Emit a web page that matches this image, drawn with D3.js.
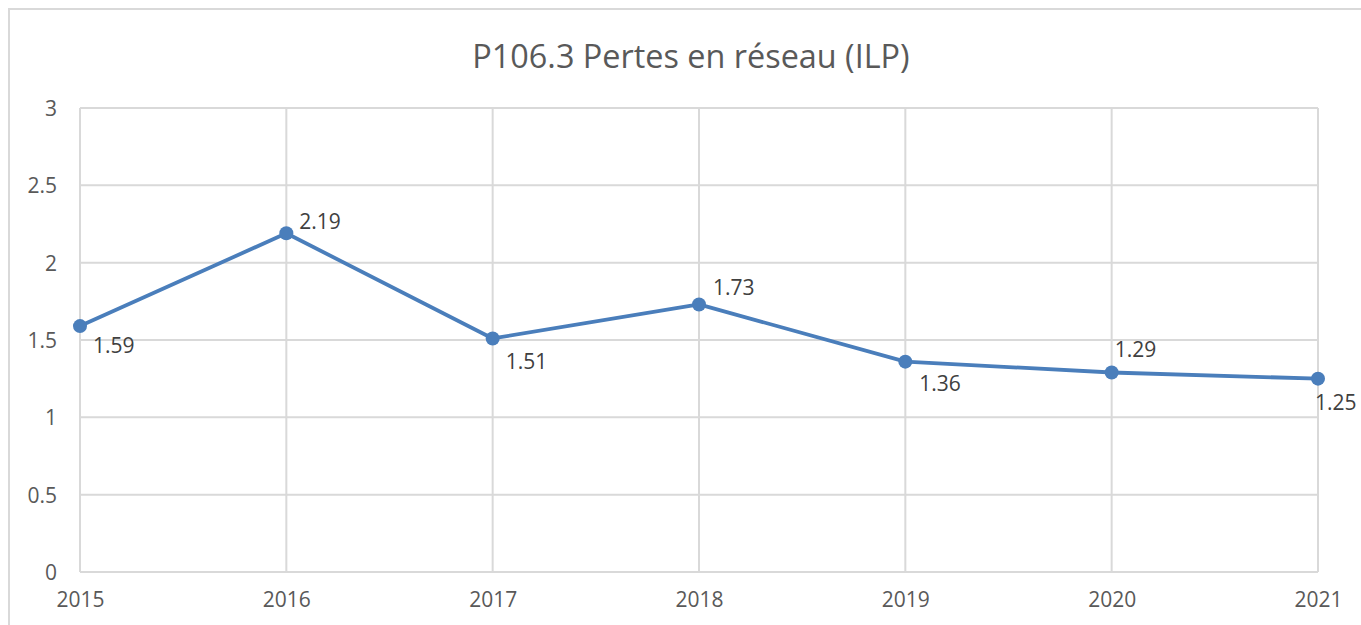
<!DOCTYPE html>
<html>
<head>
<meta charset="utf-8">
<script src="https://cdn.jsdelivr.net/npm/d3@7"></script>
<style>
  html, body { margin: 0; padding: 0; background: #fff; }
  svg { display: block; }
</style>
</head>
<body>
<svg id="chart" width="1361" height="625"></svg>
<script>
const title = "P106.3 Pertes en réseau (ILP)";
const years = ["2015", "2016", "2017", "2018", "2019", "2020", "2021"];
const values = [1.59, 2.19, 1.51, 1.73, 1.36, 1.29, 1.25];
const yTicks = [0, 0.5, 1, 1.5, 2, 2.5, 3];

(function () {
// label placement (style, not data)
const labelPlacement = [
  { dx: 13, dy: 20 }, { dx: 13, dy: -12 }, { dx: 13, dy: 23 }, { dx: 14, dy: -17 },
  { dx: 14, dy: 22 }, { dx: 3, dy: -23 }, { dx: -3, dy: 24 }
];

const svg = d3.select("#chart");
const font = "'Open Sans', 'Liberation Sans', sans-serif";
const pL = 80, pR = 1318, pT = 108, pB = 572;

// outer chart border
svg.append("rect")
  .attr("x", 9).attr("y", 9).attr("width", 1500).attr("height", 800)
  .attr("fill", "#fff").attr("stroke", "#d9d9d9").attr("stroke-width", 2);

const x = d3.scalePoint().domain(years).range([pL, pR]);
const y = d3.scaleLinear().domain([0, 3]).range([pB, pT]);

// horizontal gridlines
svg.append("g").selectAll("line").data(yTicks).join("line")
  .attr("x1", pL).attr("x2", pR)
  .attr("y1", d => y(d)).attr("y2", d => y(d))
  .attr("stroke", "#d9d9d9").attr("stroke-width", 2);

// vertical gridlines
svg.append("g").selectAll("line").data(years).join("line")
  .attr("x1", d => x(d)).attr("x2", d => x(d))
  .attr("y1", pT).attr("y2", pB)
  .attr("stroke", "#d9d9d9").attr("stroke-width", 2);

// y axis labels
const yAxis = d3.axisLeft(y).tickValues(yTicks).tickSize(0).tickPadding(0)
  .tickFormat(d => String(d));
const gy = svg.append("g").attr("transform", `translate(${pL - 23},0)`).call(yAxis);
gy.select(".domain").remove();
gy.selectAll("text").attr("font-family", font).attr("font-size", 21)
  .attr("fill", "#595959").attr("dy", "0.35em");

// x axis labels
const xAxis = d3.axisBottom(x).tickSize(0).tickPadding(0);
const gx = svg.append("g").attr("transform", `translate(0,${pB + 20})`).call(xAxis);
gx.select(".domain").remove();
gx.selectAll("text").attr("font-family", font).attr("font-size", 21)
  .attr("fill", "#595959").attr("dy", "0.71em");

// title
svg.append("text").attr("x", 691).attr("y", 68).attr("text-anchor", "middle")
  .attr("font-family", font).attr("font-size", 32.4).attr("fill", "#595959")
  .text(title);

// line
const pts = years.map((yr, i) => ({ yr, v: values[i], i }));
svg.append("path").datum(pts)
  .attr("d", d3.line().x(d => x(d.yr)).y(d => y(d.v)))
  .attr("fill", "none").attr("stroke", "#4a7ebb").attr("stroke-width", 3.8)
  .attr("stroke-linejoin", "round");

// markers
svg.append("g").selectAll("circle").data(pts).join("circle")
  .attr("cx", d => x(d.yr)).attr("cy", d => y(d.v)).attr("r", 7)
  .attr("fill", "#4a7ebb");

// data labels
svg.append("g").selectAll("text").data(pts).join("text")
  .attr("x", d => x(d.yr) + labelPlacement[d.i].dx)
  .attr("y", d => y(d.v) + labelPlacement[d.i].dy)
  .attr("dy", "0.35em")
  .attr("font-family", font).attr("font-size", 21).attr("fill", "#404040")
  .text(d => d.v.toFixed(2));
})();
</script>
</body>
</html>
